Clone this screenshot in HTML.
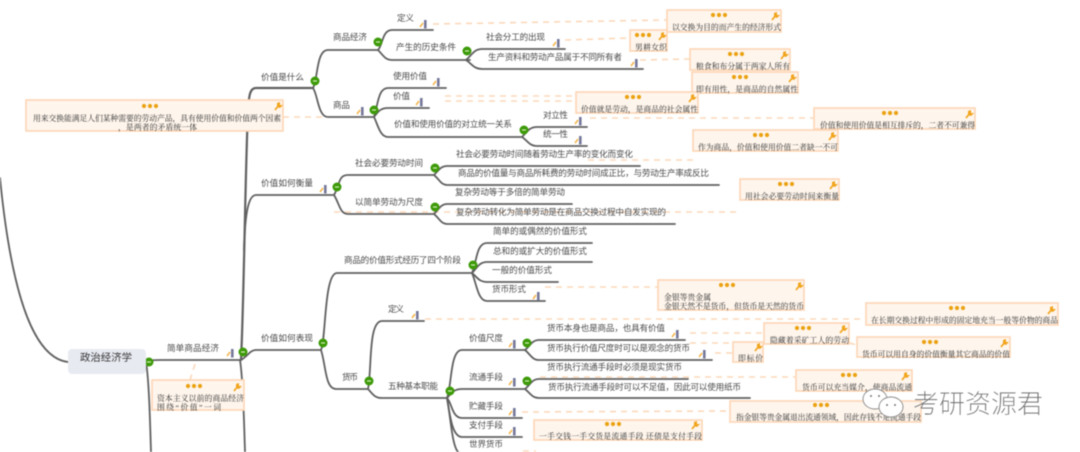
<!DOCTYPE html>
<html lang="zh">
<head>
<meta charset="utf-8">
<title>政治经济学</title>
<style>
html,body{margin:0;padding:0;background:#fff;width:1080px;height:452px;overflow:hidden}
svg{display:block;filter:blur(.5px)}
.l{font-family:"Liberation Sans","Noto Sans CJK SC",sans-serif;font-size:8.6px;fill:#4a4a4a}
.n{font-family:"Liberation Serif","Noto Serif CJK SC",serif;font-size:7.8px;fill:#2e2e2e}
.w{fill:none;stroke:#606060;stroke-width:1.8;stroke-linecap:round}
.d{fill:none;stroke:#fcd8ba;stroke-width:1.6;stroke-dasharray:6 5}
.b{fill:#fef5ec;stroke:#fdd6b5;stroke-width:1.6}
</style>
</head>
<body>
<svg width="1080" height="452" viewBox="0 0 1080 452" xmlns="http://www.w3.org/2000/svg">
<defs>
<g id="ic"><path d="M-4,3 L-1,-1" stroke="#f3b44a" stroke-width="1.6" fill="none"/><rect x="0" y="-4" width="2.6" height="8.5" fill="#75789a"/></g>
<g id="bt"><circle r="4.5" fill="#3d9a08"/><path d="M-2,0H2" stroke="#d6efbc" stroke-width="1.2"/></g>
<g id="do"><circle cx="-6" r="2.1" fill="#eba212"/><circle r="2.1" fill="#eba212"/><circle cx="6" r="2.1" fill="#eba212"/></g>
<g id="pi"><path d="M-4,4 L0,-1" stroke="#f1a41c" stroke-width="1.7"/><path d="M-2,-3 L1,-4 L1,-1 L4,-1 L1,2 L-2,1Z" fill="#f1a41c"/></g>
</defs>

<!-- dashed connectors -->
<g class="d">
<path d="M283,117H325"/>
<path d="M433,24L667,20"/>
<path d="M565,40L630,38"/>
<path d="M640,60L690,59"/>
<path d="M445,96H576"/>
<path d="M445,101H576"/>
<path d="M590,118H814"/>
<path d="M588,160H693"/>
<path d="M334,212H740"/>
<path d="M545,287H658"/>
<path d="M425,319H866"/>
<path d="M690,333H764"/>
<path d="M690,343H733"/>
<path d="M715,353H733"/>
<path d="M849,343L857,345"/>
<path d="M540,377H796"/>
<path d="M522,412L730,411"/>
<path d="M523,451H536"/>
<path d="M195,364L190,380"/>
</g>

<!-- wires -->
<g class="w">
<path d="M68,362C35,358 12,300 0,178"/>
<path d="M146,362C149,380 150,420 151,452"/>
<path d="M148,362C151,360 154,360 160,360H240"/>
<path d="M241,360C244,300 245,180 248,110C249,95 250,88 256,88H313" style="stroke-width:2.2"/>
<path d="M244,250C245,215 248,195 256,195H334"/>
<path d="M241,360C248,356 250,350 256,350H321"/>
<path d="M240,360C243,380 244,420 245,452"/>
<path d="M313,88C318,80 316,50 328,50H378"/>
<path d="M313,88C318,95 318,117 328,117H373"/>
<path d="M378,50C383,45 382,30 392,30H433"/>
<path d="M378,50C383,55 385,60 392,60H470"/>
<path d="M466,60C472,55 474,49 482,49H565"/>
<path d="M466,60C472,64 474,69 482,69H643"/>
<path d="M374,117C378,105 378,88 388,88H446"/>
<path d="M374,117C378,112 380,108 388,108H429"/>
<path d="M374,117C378,125 380,137 388,137H522"/>
<path d="M522,137C527,132 529,127 537,127H587"/>
<path d="M522,137C527,140 529,146 537,146H587"/>
<path d="M334,195C340,185 338,175 348,175H434"/>
<path d="M334,195C340,205 340,214 348,214H434"/>
<path d="M434,175C439,170 441,166 447,166H640"/>
<path d="M434,175C439,179 441,185 447,185H719"/>
<path d="M434,214C439,209 441,204 447,204H572"/>
<path d="M434,214C439,218 441,224 447,224H675"/>
<path d="M321,350C326,340 324,273 337,273H472"/>
<path d="M321,350C326,365 325,389 336,389H368"/>
<path d="M472,273C477,262 476,243 487,243H592"/>
<path d="M472,273C477,268 479,262 487,262H592"/>
<path d="M472,273C477,277 479,282 487,282H558"/>
<path d="M472,273C477,285 478,301 487,301H545"/>
<path d="M368,389C372,370 368,321 382,321H424"/>
<path d="M368,389C372,393 374,398 382,398H447"/>
<path d="M447,398C452,385 450,350 462,350H525"/>
<path d="M447,398C451,394 453,389 462,389H525"/>
<path d="M447,398C452,403 452,418 462,418H522"/>
<path d="M447,398C450,415 452,437 462,437H522"/>
<path d="M447,398C451,420 452,445 458,452"/>
<path d="M525,350C530,346 532,340 539,340H685"/>
<path d="M525,350C530,354 532,360 539,360H712"/>
<path d="M525,389C530,385 532,379 539,379H688"/>
<path d="M525,389C530,393 532,398 539,398H750"/>
</g>

<!-- icons -->
<use href="#ic" x="424" y="24"/><use href="#ic" x="557" y="43"/><use href="#ic" x="635" y="63"/>
<use href="#ic" x="437" y="82"/><use href="#ic" x="420" y="102"/><use href="#ic" x="579" y="121"/>
<use href="#ic" x="579" y="140"/><use href="#ic" x="361" y="111"/><use href="#ic" x="324" y="189"/>
<use href="#ic" x="231" y="353"/><use href="#ic" x="537" y="296"/><use href="#ic" x="416" y="315"/>
<use href="#ic" x="513" y="344"/><use href="#ic" x="513" y="382"/><use href="#ic" x="513" y="412"/>
<use href="#ic" x="513" y="431"/><use href="#ic" x="676" y="334"/><use href="#ic" x="703" y="354"/>

<!-- buttons -->
<use href="#bt" x="149" y="362"/><use href="#bt" x="243" y="352"/><use href="#bt" x="315" y="81"/>
<use href="#bt" x="378" y="42"/><use href="#bt" x="374" y="110"/><use href="#bt" x="467" y="51"/>
<use href="#bt" x="524" y="130"/><use href="#bt" x="337" y="187"/><use href="#bt" x="435" y="168"/>
<use href="#bt" x="435" y="207"/><use href="#bt" x="323" y="343"/><use href="#bt" x="369" y="381"/>
<use href="#bt" x="473" y="265"/><use href="#bt" x="450" y="391"/><use href="#bt" x="527" y="343"/>
<use href="#bt" x="527" y="381"/>

<!-- root -->
<rect x="68" y="349" width="78" height="25" rx="4" fill="#e8eaf2"/>
<text x="80" y="361" textLength="52" style="font-family:'Liberation Sans','Noto Sans CJK SC',sans-serif;font-size:10.4px;fill:#333">政治经济学</text>

<!-- labels -->
<g class="l">
<text x="167" y="351" textLength="52">简单商品经济</text>
<text x="261" y="80" textLength="43">价值是什么</text>
<text x="261" y="186" textLength="52">价值如何衡量</text>
<text x="261" y="341" textLength="52">价值如何表现</text>
<text x="333" y="40" textLength="34">商品经济</text>
<text x="333" y="108" textLength="17">商品</text>
<text x="397" y="21" textLength="17">定义</text>
<text x="396" y="50" textLength="60">产生的历史条件</text>
<text x="486" y="40" textLength="59">社会分工的出现</text>
<text x="488" y="60" textLength="134">生产资料和劳动产品属于不同所有者</text>
<text x="393" y="79" textLength="34">使用价值</text>
<text x="393" y="99" textLength="17">价值</text>
<text x="394" y="127" textLength="118">价值和使用价值的对立统一关系</text>
<text x="543" y="118" textLength="25">对立性</text>
<text x="543" y="137" textLength="25">统一性</text>
<text x="355" y="166" textLength="68">社会必要劳动时间</text>
<text x="355" y="205" textLength="68">以简单劳动为尺度</text>
<text x="456" y="157" textLength="177">社会必要劳动时间随着劳动生产率的变化而变化</text>
<text x="458" y="176" textLength="251">商品的价值量与商品所耗费的劳动时间成正比，与劳动生产率成反比</text>
<text x="455" y="195" textLength="110">复杂劳动等于多倍的简单劳动</text>
<text x="456" y="215" textLength="210">复杂劳动转化为简单劳动是在商品交换过程中自发实现的</text>
<text x="344" y="263" textLength="117">商品的价值形式经历了四个阶段</text>
<text x="342" y="380" textLength="16">货币</text>
<text x="493" y="234" textLength="94">简单的或偶然的价值形式</text>
<text x="493" y="254" textLength="94">总和的或扩大的价值形式</text>
<text x="492" y="273" textLength="60">一般的价值形式</text>
<text x="492" y="292" textLength="34">货币形式</text>
<text x="388" y="312" textLength="16">定义</text>
<text x="388" y="389" textLength="50">五种基本职能</text>
<text x="469" y="341" textLength="34">价值尺度</text>
<text x="469" y="380" textLength="34">流通手段</text>
<text x="469" y="409" textLength="34">贮藏手段</text>
<text x="469" y="428" textLength="34">支付手段</text>
<text x="469" y="447" textLength="34">世界货币</text>
<text x="547" y="331" textLength="118">货币本身也是商品，也具有价值</text>
<text x="547" y="351" textLength="143">货币执行价值尺度时可以是观念的货币</text>
<text x="547" y="370" textLength="135">货币执行流通手段时必须是现实货币</text>
<text x="548" y="390" textLength="193">货币执行流通手段时可以不足值，因此可以使用纸币</text>
</g>

<!-- notes -->
<rect class="b" x="26" y="100" width="257" height="31"/>
<rect class="b" x="667" y="10" width="114" height="22"/>
<rect class="b" x="630" y="30" width="37" height="21"/>
<rect class="b" x="690" y="49" width="100" height="21"/>
<rect class="b" x="692" y="72" width="106" height="21"/>
<rect class="b" x="576" y="92" width="122" height="21"/>
<rect class="b" x="814" y="108" width="161" height="21"/>
<rect class="b" x="693" y="130" width="145" height="21"/>
<rect class="b" x="740" y="179" width="99" height="21"/>
<rect class="b" x="152" y="380" width="92" height="30"/>
<rect class="b" x="658" y="280" width="146" height="30"/>
<rect class="b" x="866" y="303" width="192" height="22"/>
<rect class="b" x="764" y="323" width="85" height="21"/>
<rect class="b" x="733" y="342" width="30" height="20"/>
<rect class="b" x="857" y="337" width="153" height="20"/>
<rect class="b" x="796" y="370" width="116" height="21"/>
<rect class="b" x="730" y="401" width="191" height="21"/>
<rect class="b" x="534" y="420" width="168" height="20"/>

<use href="#do" x="150" y="106"/><use href="#do" x="719" y="15"/><use href="#do" x="643" y="35"/>
<use href="#do" x="736" y="54"/><use href="#do" x="740" y="77"/><use href="#do" x="633" y="97"/>
<use href="#do" x="890" y="113"/><use href="#do" x="761" y="135"/><use href="#do" x="786" y="184"/>
<use href="#do" x="194" y="386"/><use href="#do" x="727" y="285"/><use href="#do" x="957" y="308"/>
<use href="#do" x="803" y="328"/><use href="#do" x="930" y="342"/><use href="#do" x="849" y="375"/>
<use href="#do" x="821" y="405"/><use href="#do" x="613" y="424"/>

<use href="#pi" x="279" y="106"/><use href="#pi" x="776" y="16"/><use href="#pi" x="663" y="36"/>
<use href="#pi" x="785" y="55"/><use href="#pi" x="793" y="78"/><use href="#pi" x="693" y="98"/>
<use href="#pi" x="970" y="114"/><use href="#pi" x="833" y="136"/><use href="#pi" x="834" y="185"/>
<use href="#pi" x="238" y="387"/><use href="#pi" x="800" y="286"/><use href="#pi" x="1052" y="310"/>
<use href="#pi" x="844" y="329"/><use href="#pi" x="1005" y="343"/><use href="#pi" x="906" y="376"/>
<use href="#pi" x="759" y="347"/><use href="#pi" x="696" y="425"/>

<g class="n">
<text x="33" y="121" textLength="248">用来交换能满足人们某种需要的劳动产品，具有使用价值和价值两个因素</text>
<text x="118" y="130" textLength="79">，是两者的矛盾统一体</text>
<text x="672" y="30" textLength="109">以交换为目的而产生的经济形式</text>
<text x="635" y="50" textLength="32">男耕女织</text>
<text x="696" y="69" textLength="94">粮食和布分属于两家人所有</text>
<text x="696" y="92" textLength="102">即有用性，是商品的自然属性</text>
<text x="581" y="112" textLength="117">价值就是劳动，是商品的社会属性</text>
<text x="820" y="128" textLength="155">价值和使用价值是相互排斥的，二者不可兼得</text>
<text x="698" y="150" textLength="140">作为商品，价值和使用价值二者缺一不可</text>
<text x="745" y="199" textLength="94">用社会必要劳动时间来衡量</text>
<text x="157" y="401" textLength="87">资本主义以前的商品经济</text>
<text x="157" y="410" textLength="64">围绕“价值”一词</text>
<text x="664" y="300" textLength="47">金银等贵金属</text>
<text x="664" y="309" textLength="140">金银天然不是货币，但货币是天然的货币</text>
<text x="871" y="323" textLength="187">在长期交换过程中形成的固定地充当一般等价物的商品</text>
<text x="770" y="343" textLength="79">隐藏着采矿工人的劳动</text>
<text x="738" y="361" textLength="25">即标价</text>
<text x="862" y="357" textLength="148">货币可以用自身的价值衡量其它商品的价值</text>
<text x="802" y="390" textLength="110">货币可以充当媒介，使商品流通</text>
<text x="736" y="420" textLength="185">指金银等贵金属退出流通领域，因此存钱不是流通手段</text>
<text x="539" y="439" textLength="163">一手交钱一手交货是流通手段 还债是支付手段</text>
</g>

<!-- watermark -->
<g stroke="#888" stroke-width=".9" fill="#fff">
<ellipse cx="875" cy="399" rx="12" ry="10"/>
<ellipse cx="891" cy="407" rx="12" ry="10"/>
</g>
<g fill="#777"><circle cx="887" cy="405" r="1"/><circle cx="895" cy="405" r="1"/><circle cx="871" cy="396" r="1"/><circle cx="879" cy="396" r="1"/></g>
<text x="913" y="413" textLength="130" style="font-family:'Liberation Sans','Noto Sans CJK SC',sans-serif;font-size:26px;font-weight:300;fill:#666;stroke:#fff;stroke-width:.3">考研资源君</text>
</svg>
</body>
</html>
